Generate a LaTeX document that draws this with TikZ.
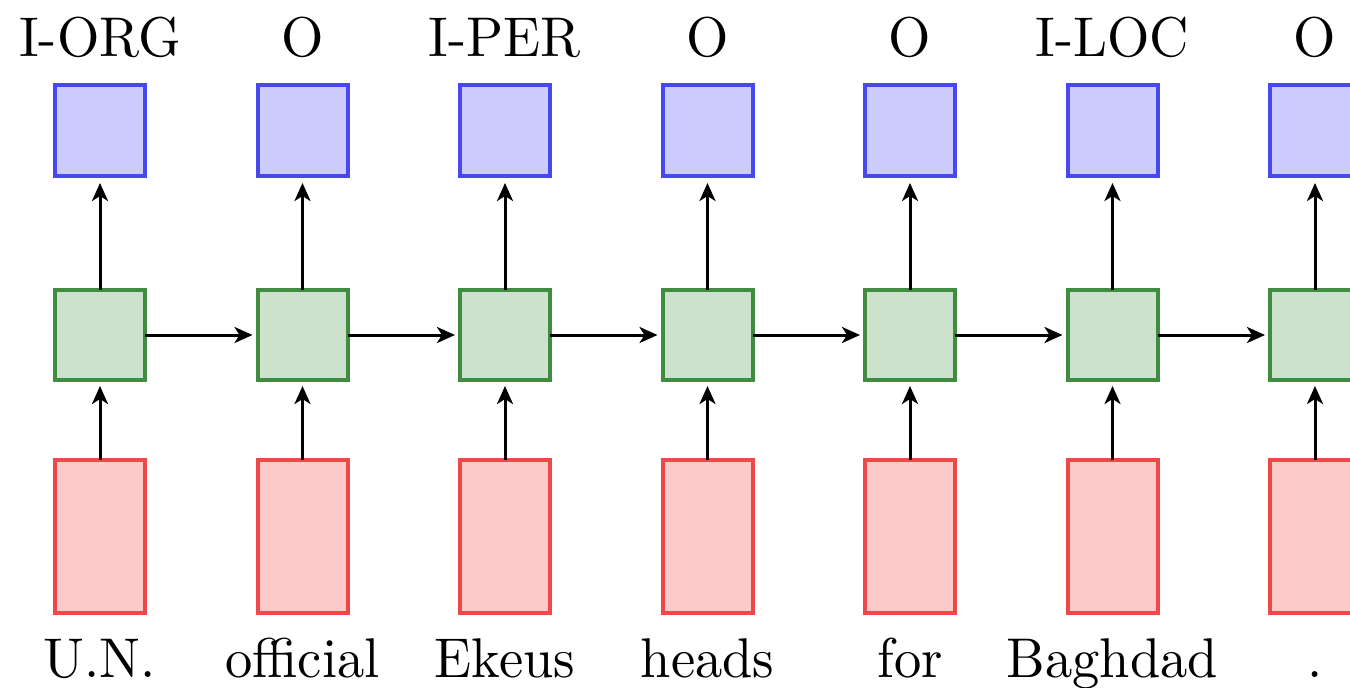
\documentclass[tikz,border=0pt]{standalone}
\usetikzlibrary{arrows.meta}
\definecolor{bfill}{RGB}{204,204,252}
\definecolor{bdraw}{RGB}{72,72,240}
\definecolor{gfill}{RGB}{204,226,204}
\definecolor{gdraw}{RGB}{64,140,64}
\definecolor{rfill}{RGB}{253,202,202}
\definecolor{rdraw}{RGB}{240,72,72}
\newcommand{\biglbl}[1]{\scalebox{5.45}[5.6]{#1}}
\begin{document}
\begin{tikzpicture}[x=1pt,y=-1pt,
  box/.style={draw, line width=4pt, minimum width=90pt, inner sep=0pt, outer sep=0pt},
  outbox/.style={box, fill=bfill, draw=bdraw, minimum height=91pt},
  hidbox/.style={box, fill=gfill, draw=gdraw, minimum height=90pt},
  inbox/.style={box, fill=rfill, draw=rdraw, minimum height=153pt},
  lbl/.style={font=\normalsize, anchor=base, inner sep=0pt},
  conn/.style={line width=3pt, -{Stealth[length=18pt,width=16pt,inset=5pt]}}]
\useasboundingbox (0,0) rectangle (1350,688);
\clip (0,0) rectangle (1350,688);
\fill[white] (0,0) rectangle (1350,688);
\foreach \i/\tag/\word in {0/I-ORG/U.N., 1/O/official, 2/I-PER/Ekeus, 3/O/heads, 4/O/for, 5/I-LOC/Baghdad, 6/O/.}{
  \pgfmathsetmacro{\cx}{100+202.5*\i}
  \node[outbox] (b\i) at (\cx,130.5) {};
  \node[hidbox] (g\i) at (\cx,335) {};
  \node[inbox] (r\i) at (\cx,536.5) {};
  \node[lbl] (t\i) at (\cx,56) {\biglbl{\tag}};
  \node[lbl] (w\i) at (\cx,677) {\biglbl{\word}};
  \draw[conn, shorten >=7pt] (g\i.north) -- (b\i.south);
  \draw[conn, shorten >=6pt] (r\i.north) -- (g\i.south);
}
\foreach \i [evaluate=\i as \j using int(\i+1)] in {0,...,5}{
  \draw[conn, shorten >=5pt] (g\i.east) -- (g\j.west);
}
\end{tikzpicture}
\end{document}
